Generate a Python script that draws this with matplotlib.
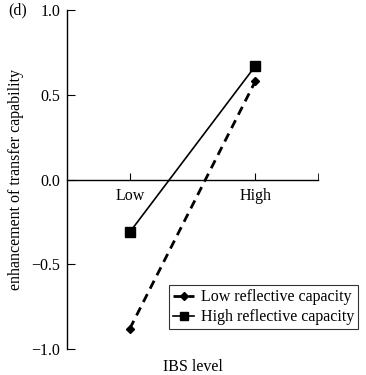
import matplotlib
matplotlib.use("Agg")
import matplotlib.pyplot as plt

plt.rcParams["font.family"] = ["Liberation Serif", "DejaVu Serif"]

levels = ["Low", "High"]
low_reflective = [-0.88, 0.58]
high_reflective = [-0.31, 0.67]

fig = plt.figure(figsize=(3.66, 3.75), dpi=100)
ax = fig.add_axes([0.183, 0.069, 0.686, 0.904])

x = range(len(levels))
ax.plot(x, low_reflective, color="black", linestyle=(0, (3.2, 2.2)), linewidth=2.0,
        marker="D", markersize=4.5, label="Low reflective capacity")
ax.plot(x, high_reflective, color="black", linestyle="-", linewidth=1.2,
        marker="s", markersize=6.5, label="High reflective capacity")

ax.set_xlim(-0.5, 1.5)
ax.set_ylim(-1.0, 1.0)
ax.set_yticks([-1.0, -0.5, 0.0, 0.5, 1.0])
ax.set_yticklabels(["\u22121.0", "\u22120.5", "0.0", "0.5", "1.0"])
ax.set_xticks(list(x))
ax.set_xticklabels(levels)
ax.set_xticks([1.5], minor=True)

ax.spines["top"].set_visible(False)
ax.spines["right"].set_visible(False)
ax.spines["bottom"].set_position(("data", 0))
for sp in ("left", "bottom"):
    ax.spines[sp].set_linewidth(1.0)

ax.tick_params(axis="y", direction="in", length=6, labelsize=11.5, pad=5)
ax.tick_params(axis="x", which="both", direction="in", length=5, labelsize=11.5, pad=6)

ax.set_ylabel("enhancement of transfer capability", fontsize=11.5, labelpad=5)
ax.set_xlabel("IBS level", fontsize=11.5)
ax.xaxis.set_label_coords(0.5, -0.03)

ax.text(-0.235, 1.0, "(d)", transform=ax.transAxes, fontsize=11.5, va="center", ha="left")

leg = ax.legend(loc="lower right", bbox_to_anchor=(1.19, 0.035), fontsize=11.5,
                frameon=True, fancybox=False, edgecolor="black",
                handlelength=1.3, handletextpad=0.4, borderpad=0.25, labelspacing=0.25,
                markerscale=0.8)
leg.get_frame().set_linewidth(0.8)

fig.savefig("out.png", dpi=100)
